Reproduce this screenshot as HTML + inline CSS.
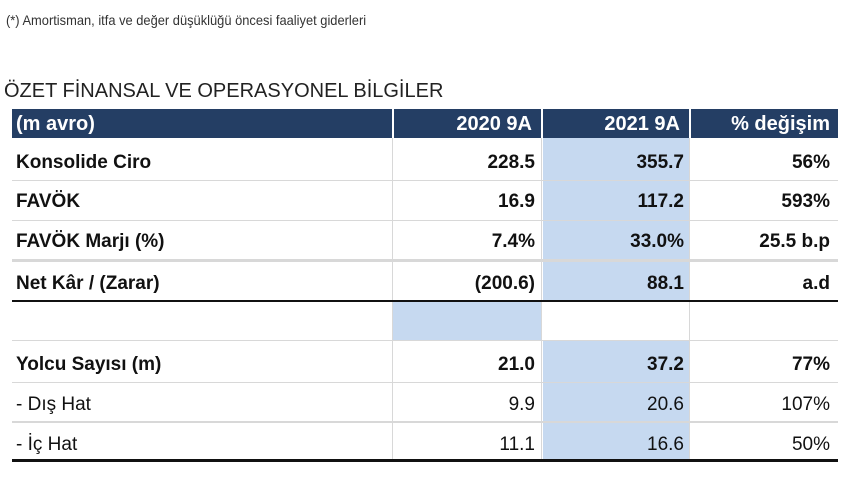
<!DOCTYPE html>
<html><head><meta charset="utf-8"><style>
body{margin:0;width:850px;height:480px;background:#fff;position:relative;overflow:hidden;font-family:"Liberation Sans Narrow","Liberation Sans",sans-serif;color:#111}
.a{position:absolute}
.note{left:6px;top:12px;font-size:14px;color:#333;font-family:"Liberation Sans",sans-serif;transform:scaleX(.92);transform-origin:left}
.title{left:4px;top:80px;font-size:20px;color:#222}
.hdr{top:109px;height:29px;background:#243e64}
.ht{top:111px;font-size:20px;font-weight:bold;color:#fff;line-height:26px}
.blue{background:#c6d9f0}
.cell{font-size:19px;line-height:22px}
.line{height:1px;background:#d8d8d8;left:12px;width:826px}
.v{width:1px;background:#d8d8d8}
</style></head><body>
<div class="a note">(*) Amortisman, itfa ve değer düşüklüğü öncesi faaliyet giderleri</div>
<div class="a title">ÖZET FİNANSAL VE OPERASYONEL BİLGİLER</div>
<div class="a hdr" style="left:12px;width:826px"></div>
<div class="a" style="left:392px;top:109px;width:2px;height:29px;background:#fff"></div>
<div class="a" style="left:541px;top:109px;width:2px;height:29px;background:#fff"></div>
<div class="a" style="left:689px;top:109px;width:2px;height:29px;background:#fff"></div>
<div class="a ht" style="left:16px">(m avro)</div>
<div class="a ht" style="left:392px;width:140px;text-align:right">2020 9A</div>
<div class="a ht" style="left:542px;width:138px;text-align:right">2021 9A</div>
<div class="a ht" style="left:690px;width:140px;text-align:right">% değişim</div>
<div class="a blue" style="left:543px;top:138px;width:146px;height:162px"></div>
<div class="a blue" style="left:393px;top:301px;width:148px;height:39px"></div>
<div class="a blue" style="left:543px;top:341px;width:146px;height:120px"></div>
<div class="a v" style="left:392px;top:138px;height:323px"></div>
<div class="a v" style="left:541px;top:138px;height:323px"></div>
<div class="a v" style="left:689px;top:138px;height:323px"></div>
<div class="a line" style="top:180px"></div>
<div class="a line" style="top:220px"></div>
<div class="a line" style="top:259px;height:3px"></div>
<div class="a line" style="top:300px;height:2px;background:#111"></div>
<div class="a line" style="top:340px"></div>
<div class="a line" style="top:382px"></div>
<div class="a line" style="top:421px;height:2px"></div>
<div class="a line" style="top:459px;height:3px;background:#111"></div>
<div id="rows"></div>
<script>
const labels=["Konsolide Ciro","FAVÖK","FAVÖK Marjı (%)","Net Kâr / (Zarar)","Yolcu Sayısı (m)","- Dış Hat","- İç Hat"];
const v2020=["228.5","16.9","7.4%","(200.6)","21.0","9.9","11.1"];
const v2021=["355.7","117.2","33.0%","88.1","37.2","20.6","16.6"];
const change=["56%","593%","25.5 b.p","a.d","77%","107%","50%"];
const tops=[152,191,231,273,354,394,434];
const bold=[1,1,1,1,1,0,0];
const root=document.getElementById('rows');
labels.forEach((l,i)=>{
 const w=bold[i]?'bold':'normal';
 const mk=(t,left,width,align,name)=>{const d=document.createElement('div');d.className='a cell';d.style.cssText=`left:${left}px;top:${tops[i]}px;width:${width}px;text-align:${align};font-weight:${w}`;d.textContent=t;
 
 
 root.appendChild(d);};
 mk(l,16,360,'left','row-label');
 mk(v2020[i],392,143,'right','value-2020');
 mk(v2021[i],542,142,'right','value-2021');
 mk(change[i],690,140,'right','value-change');
});
</script>
</body></html>
